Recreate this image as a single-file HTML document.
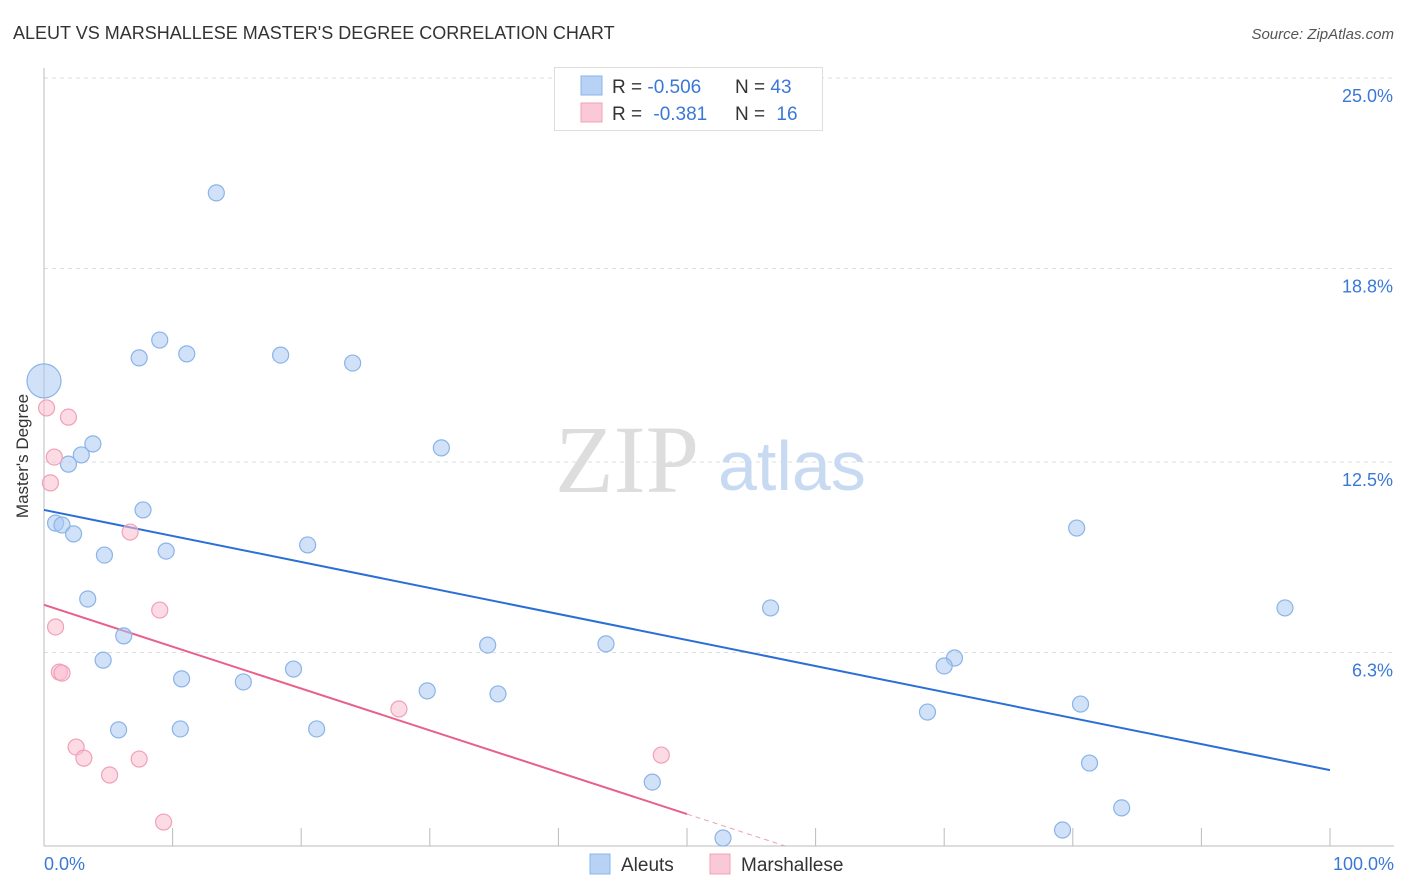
<!DOCTYPE html>
<html><head><meta charset="utf-8"><style>
body{margin:0;background:#fff;font-family:"Liberation Sans",sans-serif;}
svg{display:block}
</style></head><body>
<svg id="chart" width="1406" height="892" xmlns="http://www.w3.org/2000/svg">
<text x="13" y="39" font-size="18" fill="#333">ALEUT VS MARSHALLESE MASTER'S DEGREE CORRELATION CHART</text>
<text x="1394" y="39" font-size="15" fill="#555" font-style="italic" text-anchor="end">Source: ZipAtlas.com</text>
<text x="28" y="456" font-size="17" fill="#333" text-anchor="middle" transform="rotate(-90 28 456)">Master's Degree</text>
<g id="grid"></g>
<g id="axes"></g>
<text x="555" y="492" font-size="96" fill="#ddd" font-family="Liberation Serif,serif">ZIP</text>
<text x="718" y="490" font-size="70" fill="#c8daf2">atlas</text>
<g id="lines"></g>
<g id="pts"></g>
<g>
<rect x="554.500" y="67.500" width="268" height="63" fill="#fff" stroke="#ddd"/>
<rect x="581" y="76" width="21" height="19" fill="#b8d2f6" stroke="#8ab4e8"/>
<rect x="581" y="103" width="21" height="19" fill="#fac8d6" stroke="#f0a0b8"/>
<text x="612" y="93" font-size="19" fill="#333">R = <tspan fill="#3a78d8">-0.506</tspan></text>
<text x="735" y="93" font-size="19" fill="#333">N = <tspan fill="#3a78d8">43</tspan></text>
<text x="612" y="120" font-size="19" fill="#333">R =  <tspan fill="#3a78d8" dx="6">-0.381</tspan></text>
<text x="735" y="120" font-size="19" fill="#333">N =  <tspan fill="#3a78d8" dx="6">16</tspan></text>
</g>
<g>
<rect x="590" y="854" width="20" height="20" fill="#b8d2f6" stroke="#8ab4e8"/>
<text x="621" y="871" font-size="19" fill="#333">Aleuts</text>
<rect x="710" y="854" width="20" height="20" fill="#fac8d6" stroke="#f0a0b8"/>
<text x="741" y="871" font-size="19" fill="#333">Marshallese</text>
</g>
</svg>
<script>
const yTicks=[25.0,18.8,12.5,6.3];
const yTickLabels=["25.0%","18.8%","12.5%","6.3%"];
const xTickLabels=["0.0%","100.0%"];
const aleutX=[0,13.4,9.0,7.4,11.1,18.4,24.0,3.8,2.9,1.9,30.9,0.9,1.4,2.3,7.7,4.7,9.5,20.5,3.4,6.2,4.6,10.7,15.5,19.4,5.8,10.6,21.2,34.5,43.7,29.8,35.3,56.5,47.3,52.8,80.3,96.5,70.8,70.0,68.7,80.6,81.3,83.8,79.2];
const aleutY=[15.14,21.26,16.47,15.89,16.02,15.98,15.72,13.09,12.73,12.43,12.96,10.51,10.45,10.16,10.94,9.47,9.60,9.80,8.04,6.84,6.05,5.44,5.34,5.76,3.78,3.81,3.81,6.54,6.58,5.05,4.95,7.75,2.08,0.26,10.35,7.75,6.12,5.86,4.36,4.62,2.70,1.24,0.52];
const marshX=[0.2,1.9,0.8,0.5,6.7,9.0,0.9,1.2,1.4,2.5,3.1,7.4,5.1,9.3,27.6,48.0];
const marshY=[14.26,13.96,12.66,11.82,10.22,7.68,7.13,5.66,5.63,3.22,2.86,2.83,2.31,0.78,4.46,2.96];
const aleutTrend=[10.94,2.47];
const marshTrend=[7.85,1.04];
const NS="http://www.w3.org/2000/svg";
const sx=v=>44+v*12.86, sy=v=>846-v*30.72;
function mk(tag,attrs,parent){const e=document.createElementNS(NS,tag);for(const k in attrs)e.setAttribute(k,attrs[k]);document.getElementById(parent).appendChild(e);return e;}
yTicks.forEach((t,i)=>{
 const g=mk('line',{x1:44,x2:1394,y1:sy(t),y2:sy(t),stroke:'#ddd','stroke-dasharray':'4,4'},'grid');
 
 
 const tx=mk('text',{x:1393,y:sy(t)+24,'font-size':18,fill:'#3a78d8','text-anchor':'end'},'grid');
 tx.textContent=yTickLabels[i];
 
 
});
const yax=mk('line',{x1:44,x2:44,y1:68,y2:846,stroke:'#bbb'},'axes');


const xax=mk('line',{x1:44,x2:1394,y1:846,y2:846,stroke:'#bbb'},'axes');


for(let i=1;i<=10;i++){
 const t=mk('line',{x1:sx(i*10),x2:sx(i*10),y1:828,y2:846,stroke:'#bbb'},'axes');
 
 
}
[[0,44,'start'],[100,1394,'end']].forEach((a,i)=>{
 const t=mk('text',{x:a[1],y:870,'font-size':18,fill:'#3a78d8','text-anchor':a[2]},'axes');
 t.textContent=xTickLabels[i];
 
 
});
const l1=mk('line',{x1:sx(0),y1:sy(aleutTrend[0]),x2:sx(100),y2:sy(aleutTrend[1]),stroke:'#2a6fd6','stroke-width':2},'lines');


const slope=(marshTrend[1]-marshTrend[0])/50, xz=-marshTrend[0]/slope;
const l2=mk('line',{x1:sx(0),y1:sy(marshTrend[0]),x2:sx(50),y2:sy(marshTrend[1]),stroke:'#e8608a','stroke-width':2},'lines');


const l3=mk('line',{x1:sx(50),y1:sy(marshTrend[1]),x2:sx(xz),y2:sy(0),stroke:'#e8a0b8','stroke-width':1,'stroke-dasharray':'5,4'},'lines');


aleutX.forEach((x,i)=>{
 const c=mk('circle',{cx:sx(x),cy:sy(aleutY[i]),r:i===0?17:8,fill:'rgba(170,200,242,0.55)',stroke:'#8ab4e8','stroke-width':1.2},'pts');
 
 
});
marshX.forEach((x,i)=>{
 const c=mk('circle',{cx:sx(x),cy:sy(marshY[i]),r:8,fill:'rgba(250,190,208,0.55)',stroke:'#f0a0b8','stroke-width':1.2},'pts');
 
 
});
</script>
</body></html>
